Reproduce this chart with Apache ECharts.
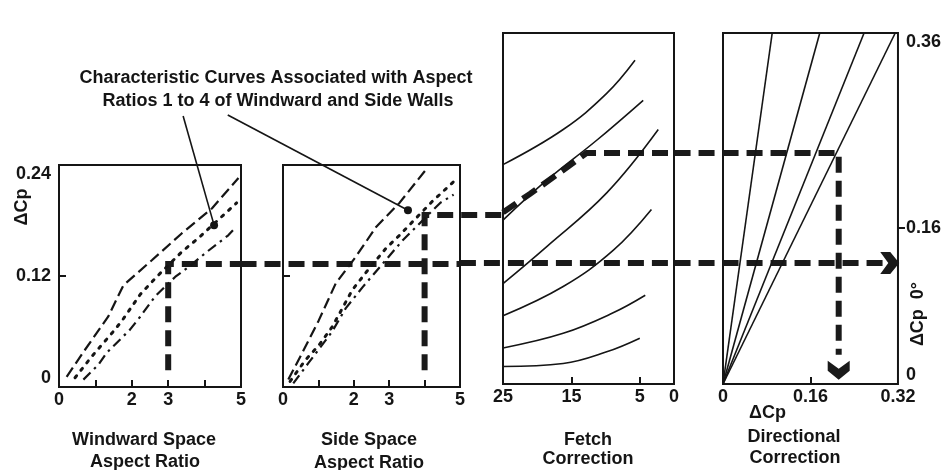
<!DOCTYPE html>
<html><head><meta charset="utf-8">
<script src="https://cdn.jsdelivr.net/npm/echarts@6/dist/echarts.min.js"></script>
<style>html,body{margin:0;padding:0;background:#fff}#c{width:944px;height:470px}</style>
</head><body><div id="c"></div>
<script>
// ---------------- tick labels ----------------
const windLabels = [0, 2, 3, 5];
const windTicks = [1, 2, 3, 4];
const sideLabels = [0, 2, 3, 5];
const sideTicks = [1, 2, 3, 4];
const dcpLabels = [0, 0.12, 0.24];
const dcpTicks = [0.12];
const fetchLabels = [25, 15, 5, 0];
const fetchTicks = [15, 5];
const dirLabels = [0, 0.16, 0.32];
const dirTicks = [0.16];
const dcp0Labels = [0, 0.16, 0.36];
const dcp0Ticks = [0.16];

// ---------------- windward space panel: [aspect ratio, dCp] ----------------
const windCurveDash = [[0.21,0.011],[0.71,0.040],[1.35,0.076],[1.77,0.110],[2.55,0.137],[3.37,0.166],[4.20,0.193],[4.93,0.226]];
const windCurveDot  = [[0.44,0.010],[0.90,0.033],[1.45,0.058],[1.72,0.071],[2.23,0.100],[2.68,0.119],[3.37,0.146],[3.83,0.161],[4.88,0.199]];
const windCurveDashDot = [[0.67,0.008],[1.08,0.024],[1.31,0.037],[1.95,0.062],[2.23,0.076],[2.64,0.098],[3.19,0.119],[3.60,0.131],[4.06,0.146],[4.65,0.164],[4.84,0.172]];

// ---------------- side space panel ----------------
const sideCurveDash = [[0.15,0.008],[0.53,0.036],[1.01,0.072],[1.49,0.112],[2.06,0.141],[2.63,0.173],[3.29,0.199],[4.06,0.236]];
const sideCurveDot  = [[0.20,0.006],[0.63,0.029],[1.01,0.045],[1.39,0.065],[1.96,0.105],[2.39,0.126],[2.91,0.150],[3.29,0.164],[4.20,0.200],[4.82,0.222]];
const sideCurveDashDot = [[0.29,0.004],[0.72,0.026],[1.39,0.060],[1.77,0.085],[2.25,0.108],[3.39,0.159],[4.44,0.199],[4.82,0.208]];

// ---------------- fetch correction panel: [fetch, dCp] ----------------
const fetchCurve1 = [[25,0.225],[16.2,0.261],[9.84,0.298],[5.7,0.332]];
const fetchCurve2 = [[25,0.168],[18.6,0.209],[11.3,0.250],[4.5,0.291]];
const fetchCurve3 = [[25,0.103],[18.6,0.141],[9.84,0.196],[2.3,0.261]];
const fetchCurve4 = [[25,0.070],[16.2,0.100],[8.9,0.137],[3.3,0.179]];
const fetchCurve5 = [[25,0.037],[16.2,0.052],[8.9,0.073],[4.2,0.091]];
const fetchCurve6 = [[25,0.018],[16.2,0.021],[9.84,0.033],[5.0,0.047]];

// ---------------- directional correction panel ----------------
const dirAngles = ['90°', '75°', '60°', '45°'];
const dirTopX = [0.09, 0.177, 0.258, 0.315];   // dCp (directional) where each ray meets dCp0 = 0.36
const dirTopY = 0.36;

// ---------------- worked example (thick dashed path) ----------------
const exWind = [[3,0.018],[3,0.133],[5,0.133]];
const exSideLow = [[-1.2,0.133],[5,0.133]];
const exSideUp = [[4,0.018],[4,0.186],[6.29,0.186]];
const exFetchLow = [[31.3,0.124],[0,0.124]];
const exFetchUp = [[25,0.176],[21.05,0.195],[16.2,0.2195],[12.76,0.237],[0,0.237]];
const exDirUp = [[-0.0886,0.237],[0.2116,0.237],[0.2116,0.03]];
const exDirLow = [[-0.0886,0.124],[0.292,0.124]];
const exArrowDown = [[0.2116,0.014]];
const exArrowRight = [[0.305,0.124]];

// ---------------- annotation pointers ----------------
const noteWind = [[3.41,0.293],[4.26,0.175]];
const noteSide = [[-1.56,0.294],[3.53,0.191]];

// =================================================================
const INK = '#151515';
const FONT = '"Liberation Sans", Arial, sans-serif';
const lab = {color: INK, fontFamily: FONT, fontWeight: 'bold', fontSize: 18};

const grids = [
  {left: 59, top: 165, width: 182, height: 222},
  {left: 283, top: 165, width: 177, height: 222},
  {left: 503, top: 33, width: 171, height: 351},
  {left: 723, top: 33, width: 177, height: 351}
].map(g => Object.assign({show: true, borderColor: INK, borderWidth: 2, backgroundColor: 'transparent'}, g));

function xAx(gi, min, max, labels, ticks, inverse) {
  return {type: 'value', gridIndex: gi, min, max, inverse: !!inverse, position: 'bottom',
    splitLine: {show: false}, axisLine: {show: false, onZero: false},
    axisTick: {show: true, inside: true, length: 7, customValues: ticks, lineStyle: {color: INK, width: 2}},
    axisLabel: Object.assign({show: true, customValues: labels, margin: 4}, lab)};
}
function yAx(gi, min, max, labels, ticks, pos, inside, showLabel) {
  return {type: 'value', gridIndex: gi, min, max, position: pos,
    splitLine: {show: false}, axisLine: {show: false, onZero: false},
    axisTick: {show: ticks.length > 0, inside: inside, length: 7, customValues: ticks, lineStyle: {color: INK, width: 2}},
    axisLabel: Object.assign({show: showLabel, customValues: labels, margin: 8,
      verticalAlignMinLabel: 'bottom', verticalAlignMaxLabel: 'top'}, lab)};
}

function ln(gi, data, style, extra) {
  return Object.assign({type: 'line', xAxisIndex: gi, yAxisIndex: gi, data, symbol: 'none', silent: true,
    lineStyle: Object.assign({color: INK, width: 2}, style)}, extra || {});
}
// polyline drawn with the 'lines' series so it may run past its panel into the gaps
function path(gi, coords, style) {
  return {type: 'lines', coordinateSystem: 'cartesian2d', xAxisIndex: gi, yAxisIndex: gi, polyline: true,
    clip: false, silent: true, data: [{coords}],
    lineStyle: Object.assign({color: INK, width: 2, opacity: 1}, style)};
}
const DASH = {type: [11, 5], width: 2.2};
const DOT = {type: [2.5, 7], width: 3, cap: 'round'};
const DASHDOT = {type: [10, 5, 2.5, 5], width: 2.2};
const EX = {type: [16, 8], width: 6, color: '#1a1a1a'};
const ARROW = 'path://M0,0 L11,8 L22,0 L22,10 L11,19 L0,10 Z';

const series = [
  ln(0, windCurveDash, DASH), ln(0, windCurveDot, DOT), ln(0, windCurveDashDot, DASHDOT),
  ln(1, sideCurveDash, DASH), ln(1, sideCurveDot, DOT), ln(1, sideCurveDashDot, DASHDOT),
  ...[fetchCurve1, fetchCurve2, fetchCurve3, fetchCurve4, fetchCurve5, fetchCurve6]
     .map(d => ln(2, d, {width: 1.6}, {smooth: 0.4})),
  ...dirTopX.map((x, i) => ln(3, [[0, 0], {value: [x, dirTopY], label: {show: true, position: 'top', distance: 4,
      formatter: dirAngles[i], color: INK, fontFamily: FONT, fontWeight: 'bold', fontSize: 18}}], {width: 1.6})),
  path(0, exWind, EX),
  path(1, exSideLow, EX),
  path(1, exSideUp, EX),
  path(2, exFetchLow, EX),
  path(2, exFetchUp, EX),
  path(3, exDirUp, EX),
  path(3, exDirLow, EX),
  {type: 'scatter', xAxisIndex: 3, yAxisIndex: 3, data: exArrowDown, silent: true, clip: false,
   symbol: ARROW, symbolSize: [22, 19], itemStyle: {color: '#1a1a1a', opacity: 1}},
  {type: 'scatter', xAxisIndex: 3, yAxisIndex: 3, data: exArrowRight, silent: true, clip: false, symbolRotate: 90,
   symbol: ARROW, symbolSize: [22, 19], itemStyle: {color: '#1a1a1a', opacity: 1}},
  path(0, noteWind, {width: 1.6}),
  path(1, noteSide, {width: 1.6}),
  {type: 'scatter', xAxisIndex: 0, yAxisIndex: 0, data: [noteWind[1]], symbolSize: 8, silent: true, itemStyle: {color: INK, opacity: 1}},
  {type: 'scatter', xAxisIndex: 1, yAxisIndex: 1, data: [noteSide[1]], symbolSize: 8, silent: true, itemStyle: {color: INK, opacity: 1}}
];

function txt(text, x, y, opt) {
  return Object.assign({type: 'text', x, y, silent: true, style: {text, fill: INK,
    font: 'bold 18px "Liberation Sans", Arial, sans-serif', align: 'center', verticalAlign: 'middle'}}, opt || {});
}
const graphic = [
  txt('Characteristic Curves Associated with Aspect', 276, 78),
  txt('Ratios 1 to 4 of Windward and Side Walls', 278, 101),
  txt('Windward Space', 144, 440), txt('Aspect Ratio', 145, 462),
  txt('Side Space', 369, 440), txt('Aspect Ratio', 369, 463),
  txt('Fetch', 588, 440), txt('Correction', 588, 459),
  txt('ΔCp', 749, 413, {style: {text: 'ΔCp', fill: INK, font: 'bold 18px "Liberation Sans", Arial, sans-serif', align: 'left', verticalAlign: 'middle'}}),
  txt('Directional', 794, 437), txt('Correction', 795, 458),
  txt('ΔCp', 22, 207, {rotation: Math.PI / 2}),
  txt('ΔCp  0°', 918, 314, {rotation: Math.PI / 2})
];

const chart = echarts.init(document.getElementById('c'), null, {renderer: 'canvas'});
chart.setOption({
  animation: false,
  backgroundColor: '#fff',
  grid: grids,
  xAxis: [
    xAx(0, 0, 5, windLabels, windTicks),
    xAx(1, 0, 5, sideLabels, sideTicks),
    xAx(2, 0, 25, fetchLabels, fetchTicks, true),
    xAx(3, 0, 0.32, dirLabels, dirTicks)
  ],
  yAxis: [
    yAx(0, 0, 0.24, dcpLabels, dcpTicks, 'left', true, true),
    yAx(1, 0, 0.24, [], dcpTicks, 'left', true, false),
    yAx(2, 0, 0.36, [], [], 'left', true, false),
    yAx(3, 0, 0.36, dcp0Labels, dcp0Ticks, 'right', false, true)
  ],
  series,
  graphic
});
</script></body></html>
